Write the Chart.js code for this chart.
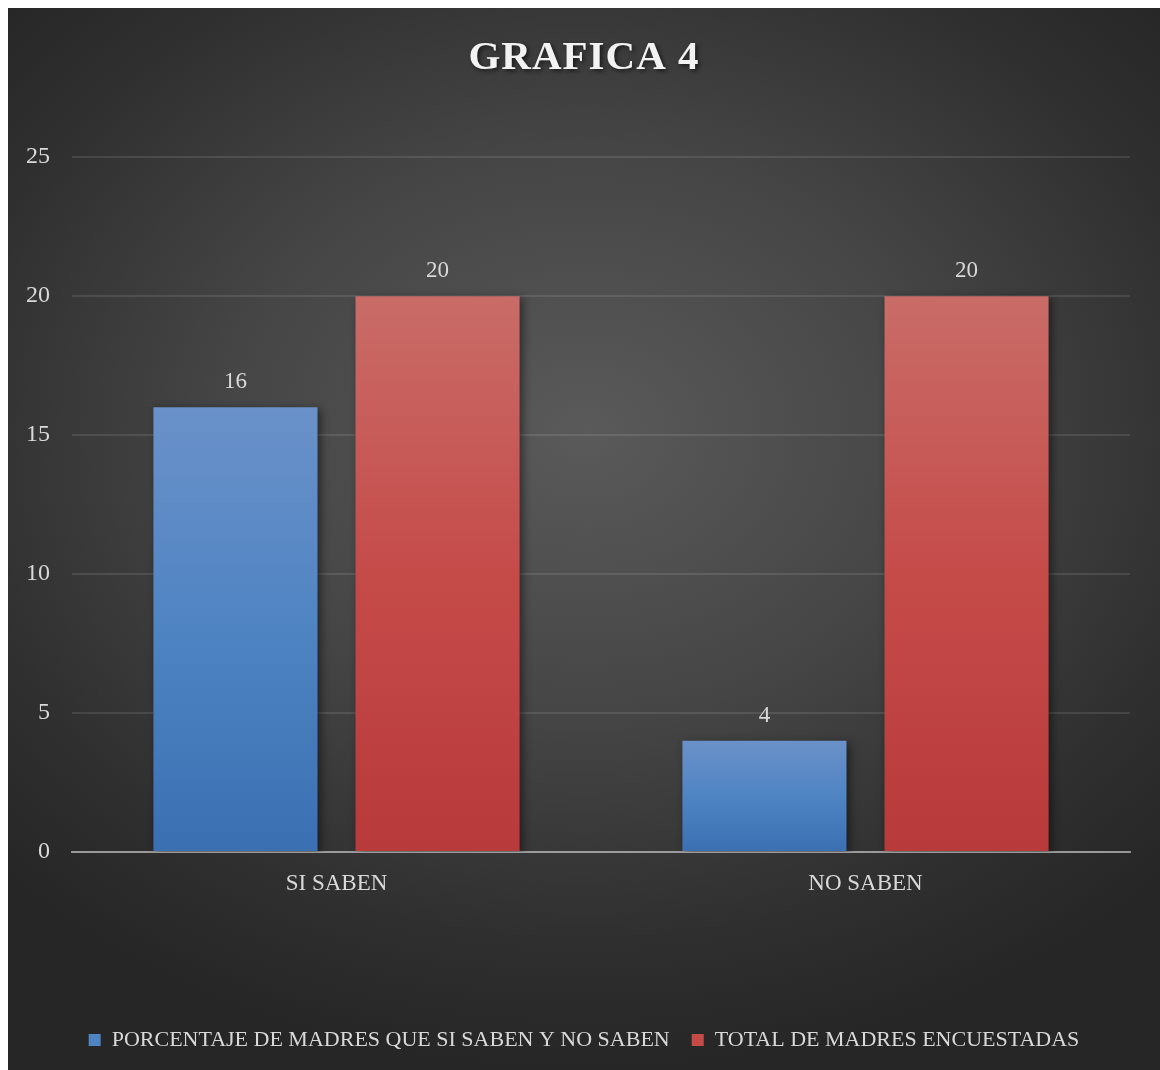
<!DOCTYPE html>
<html><head><meta charset="utf-8">
<script src="https://cdn.jsdelivr.net/npm/chart.js@4/dist/chart.umd.min.js"></script>
<style>
html,body{margin:0;padding:0;background:#fff;}
#wrap{position:absolute;left:8px;top:8px;width:1152px;height:1062px;
background:radial-gradient(ellipse 70% 60% at 50% 40%, #5a5a5a 0%, #454545 45%, #2f2f2f 80%, #262626 100%);}
canvas{display:block;}
</style></head><body>
<div id="wrap"><canvas id="c" width="1152" height="1062"></canvas></div>
<script>
const titleText = 'GRAFICA 4';
const categories = ['SI SABEN', 'NO SABEN'];
const seriesNames = ['PORCENTAJE DE MADRES QUE SI SABEN Y NO SABEN', 'TOTAL DE MADRES ENCUESTADAS'];
const porcentajeValues = [16, 4];
const totalValues = [20, 20];
const yTicks = [0, 5, 10, 15, 20, 25];

const FONT = "'Liberation Serif', 'DejaVu Serif', serif";

function barGradient(top, mid, bottom){
  return function(ctx){
    const chart = ctx.chart;
    if (!chart.chartArea || ctx.parsed === undefined) return mid;
    const y = chart.scales.y;
    const y0 = y.getPixelForValue(0);
    const y1 = y.getPixelForValue(ctx.parsed.y);
    if (!isFinite(y0) || !isFinite(y1) || y0 === y1) return mid;
    const g = chart.ctx.createLinearGradient(0, y1, 0, y0);
    g.addColorStop(0, top);
    g.addColorStop(0.5, mid);
    g.addColorStop(1, bottom);
    return g;
  };
}

const barPlugin = {
  id: 'barExtras',
  beforeDatasetsDraw(chart){
    const c = chart.ctx; c.save();
    c.shadowColor = 'rgba(0,0,0,0.45)';
    c.shadowBlur = 8; c.shadowOffsetX = 3; c.shadowOffsetY = 2;
  },
  afterDatasetsDraw(chart){
    chart.ctx.restore();
    const c = chart.ctx;
    c.save();
    c.font = "23px " + FONT;
    c.fillStyle = '#d9d9d9';
    c.textAlign = 'center';
    c.textBaseline = 'middle';
    chart.data.datasets.forEach((ds, i) => {
      chart.getDatasetMeta(i).data.forEach((bar, j) => {
        c.fillText(String(ds.data[j]), bar.x, bar.y - 25);
      });
    });
    c.restore();
  }
};

const titleStyle = {
  id: 'titleStyle',
  beforeDraw(chart){
    const t = chart.titleBlock;
    if (t && !t._styled) {
      const orig = t.draw.bind(t);
      t.draw = function(){
        const c = chart.ctx; c.save();
        c.letterSpacing = '1px';
        c.shadowColor = 'rgba(0,0,0,0.6)'; c.shadowBlur = 4; c.shadowOffsetX = 2; c.shadowOffsetY = 2;
        orig(); c.restore();
      };
      t._styled = true;
    }
  }
};

new Chart(document.getElementById('c'), {
  type: 'bar',
  data: {
    labels: categories,
    datasets: [
      { label: seriesNames[0], data: porcentajeValues, yAxisID: 'y',
        backgroundColor: barGradient('#6a91c9', '#4f84c3', '#3a70b2') },
      { label: seriesNames[1], data: totalValues, yAxisID: 'y',
        backgroundColor: barGradient('#c96c68', '#c54b49', '#b83a3a') }
    ]
  },
  options: {
    responsive: false,
    animation: false,
    devicePixelRatio: 1,
    categoryPercentage: 0.764,
    barPercentage: 0.812,
    layout: { padding: { left: 0, right: 0, top: 0, bottom: 9 } },
    plugins: {
      title: {
        display: true, text: titleText, color: '#f2f2f2',
        font: { family: FONT, size: 41, weight: 'bold', lineHeight: 1.2 },
        padding: { top: 26, bottom: 74 }
      },
      legend: {
        position: 'bottom',
        labels: {
          color: '#d9d9d9', boxWidth: 12, boxHeight: 12, padding: 22,
          font: { family: FONT, size: 22 },
          generateLabels(chart){
            const cols = ['#4f84c3', '#c54b49'];
            return chart.data.datasets.map((d, i) => ({
              text: d.label, fillStyle: cols[i], strokeStyle: cols[i], lineWidth: 0,
              datasetIndex: i, hidden: false, fontColor: '#d9d9d9'
            }));
          }
        }
      },
      tooltip: { enabled: false }
    },
    scales: {
      x: {
        z: 1,
        grid: { display: false, drawTicks: false },
        border: { display: true, color: 'rgba(200,200,200,0.65)', width: 2 },
        ticks: { color: '#d9d9d9', padding: 18, font: { family: FONT, size: 23 } },
        afterFit(s){ s.height = 155; }
      },
      y: {
        min: 0, max: 25,
        afterBuildTicks(s){ s.ticks = yTicks.map(v => ({ value: v })); },
        grid: { color: 'rgba(255,255,255,0.1)', lineWidth: 2, drawTicks: false },
        border: { display: false },
        ticks: { color: '#d9d9d9', padding: 22, font: { family: FONT, size: 24 } },
        afterFit(s){ s.width = 64; }
      },
      yRight: {
        position: 'right', min: 0, max: 25,
        grid: { display: false, drawTicks: false },
        border: { display: false },
        ticks: { display: false },
        afterFit(s){ s.width = 30; }
      }
    }
  },
  plugins: [barPlugin, titleStyle]
});
</script>
</body></html>
